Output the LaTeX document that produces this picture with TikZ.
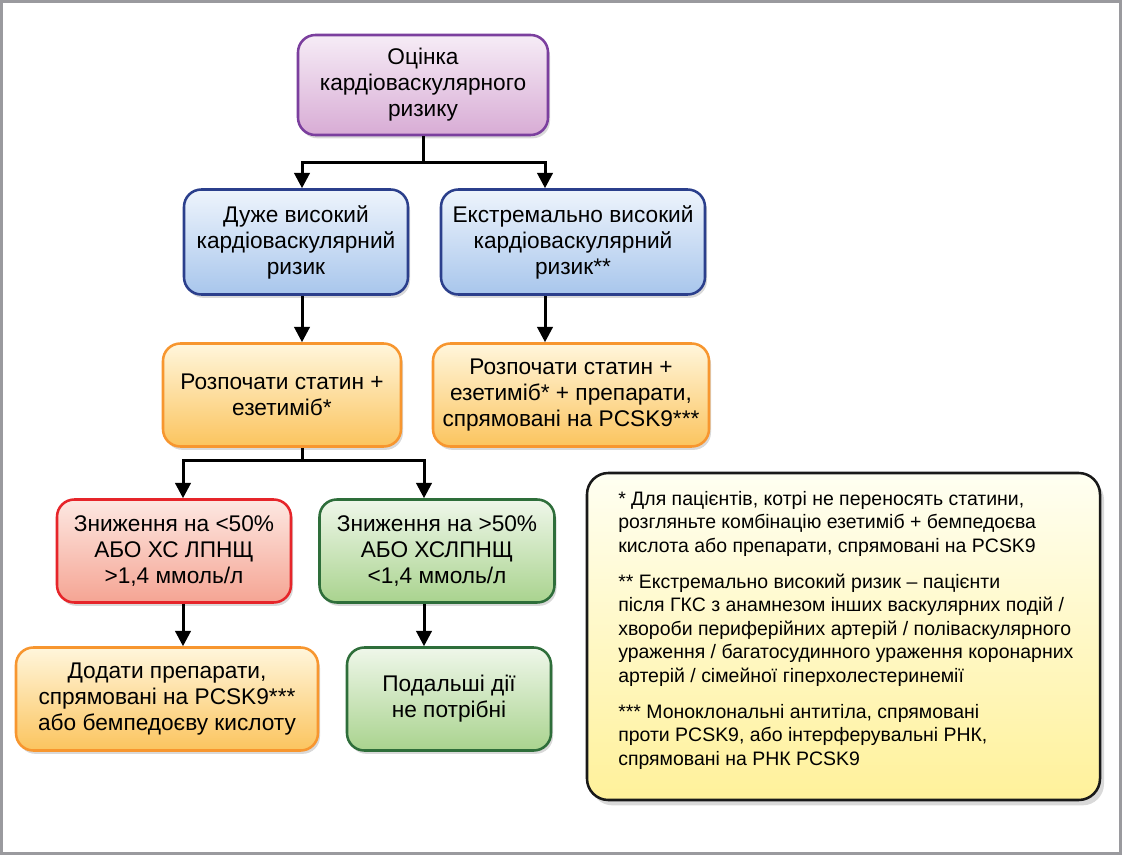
\documentclass[tikz,border=0pt]{standalone}
\usepackage{fontspec}
\setmainfont{Liberation Sans}
\usetikzlibrary{arrows.meta,shadows}
\definecolor{frameG}{HTML}{9A9A9E}
\definecolor{purB}{HTML}{7B3F9E}\definecolor{purT}{HTML}{F6ECF6}\definecolor{purD}{HTML}{D8ACD5}
\definecolor{bluB}{HTML}{2B3F8C}\definecolor{bluT}{HTML}{EEF4FC}\definecolor{bluD}{HTML}{A8C6EC}
\definecolor{orgB}{HTML}{F7962F}\definecolor{orgT}{HTML}{FFF6DC}\definecolor{orgD}{HTML}{FBC45E}
\definecolor{redB}{HTML}{E6252A}\definecolor{redT}{HTML}{FDE8E2}\definecolor{redD}{HTML}{F5A493}
\definecolor{grnB}{HTML}{2E6E3A}\definecolor{grnT}{HTML}{EFF7EA}\definecolor{grnD}{HTML}{A9D38E}
\definecolor{notT}{HTML}{FFFFF2}\definecolor{notD}{HTML}{FFF19A}
\tikzset{
  boxbase/.style={rounded corners=13pt, line width=1.9pt, align=center, inner sep=2pt,
    font=\fontsize{17}{19.5}\selectfont,
    drop shadow={shadow xshift=1.5pt,shadow yshift=-2.5pt,opacity=0.3}},
  purbox/.style={boxbase, draw=purB, top color=purT, bottom color=purD},
  blubox/.style={boxbase, draw=bluB, top color=bluT, bottom color=bluD},
  orgbox/.style={boxbase, draw=orgB, top color=orgT, bottom color=orgD},
  redbox/.style={boxbase, draw=redB, top color=redT, bottom color=redD},
  grnbox/.style={boxbase, draw=grnB, top color=grnT, bottom color=grnD},
  notebox/.style={rounded corners=16pt, line width=1.9pt, draw=black!90, top color=notT, bottom color=notD,
    drop shadow={shadow xshift=3pt,shadow yshift=-4pt,opacity=0.3}},
  conn/.style={line width=2.25pt, black},
  arr/.style={conn, -{Triangle[width=11.5pt,length=11.5pt]}},
  sz/.style 2 args={minimum width=#1*0.75pt, minimum height=#2*0.75pt}
}
\begin{document}
\begin{tikzpicture}[x=0.75pt,y=-0.75pt]
\useasboundingbox (0,0) rectangle (1123,856);
\draw[frameG, line width=2.25pt] (1.5,1.5) rectangle (1120,853);

\node[purbox, sz={250}{100}] (top) at (423,85) {Оцінка\\кардіоваскулярного\\ризику};
\node[blubox, sz={224}{105}] (bl) at (296,242) {Дуже високий\\кардіоваскулярний\\ризик};
\node[blubox, sz={264}{105}] (br) at (573,242) {Екстремально високий\\кардіоваскулярний\\ризик**};
\node[orgbox, sz={238}{103}] (ol) at (282,395) {Розпочати статин +\\езетиміб*};
\node[orgbox, sz={276}{103}] (or) at (571,395) {Розпочати статин +\\езетиміб* + препарати,\\спрямовані на PCSK9***};
\node[redbox, sz={234}{103}] (rd) at (174,551) {Зниження на <50\%\\АБО ХС ЛПНЩ\\>1,4 ммоль/л};
\node[grnbox, sz={235}{103}] (gr) at (437,551) {Зниження на >50\%\\АБО ХСЛПНЩ\\<1,4 ммоль/л};
\node[orgbox, sz={302}{103}] (ob) at (167,699) {Додати препарати,\\спрямовані на PCSK9***\\або бемпедоєву кислоту};
\node[grnbox, sz={204}{103}] (gb) at (449,699) {Подальші дії\\не потрібні};

\node[notebox, sz={513}{327}] (note) at (843.5,636.5) {};
\node[anchor=north west, align=left, inner sep=0pt, font=\fontsize{14.6}{17.7}\selectfont] (notetext) at (618,491)
{* Для пацієнтів, котрі не переносять статини,\\
розгляньте комбінацію езетиміб + бемпедоєва\\
кислота або препарати, спрямовані на PCSK9\\[9pt]
** Екстремально високий ризик -- пацієнти\\
після ГКС з анамнезом інших васкулярних подій /\\
хвороби периферійних артерій / полівaскулярного\\
ураження / багатосудинного ураження коронарних\\
артерій / сімейної гіперхолестеринемії\\[9pt]
*** Моноклональні антитіла, спрямовані\\
проти PCSK9, або інтерферувальні РНК,\\
спрямовані на РНК PCSK9};

\coordinate (j1) at (423,162);
\coordinate (xa) at (302,0);
\coordinate (xb) at (545,0);
\coordinate (j2) at (302,460);
\coordinate (xc) at (183,0);
\coordinate (xd) at (424,0);

\draw[conn] (top.south) -- (j1);
\draw[arr] (j1) -| (bl.north -| xa);
\draw[arr] (j1) -| (br.north -| xb);
\draw[arr] (bl.south -| xa) -- (ol.north -| xa);
\draw[arr] (br.south -| xb) -- (or.north -| xb);
\draw[conn] (ol.south -| j2) -- (j2);
\draw[arr] (j2) -| (rd.north -| xc);
\draw[arr] (j2) -| (gr.north -| xd);
\draw[arr] (rd.south -| xc) -- (ob.north -| xc);
\draw[arr] (gr.south -| xd) -- (gb.north -| xd);
\end{tikzpicture}
\end{document}
